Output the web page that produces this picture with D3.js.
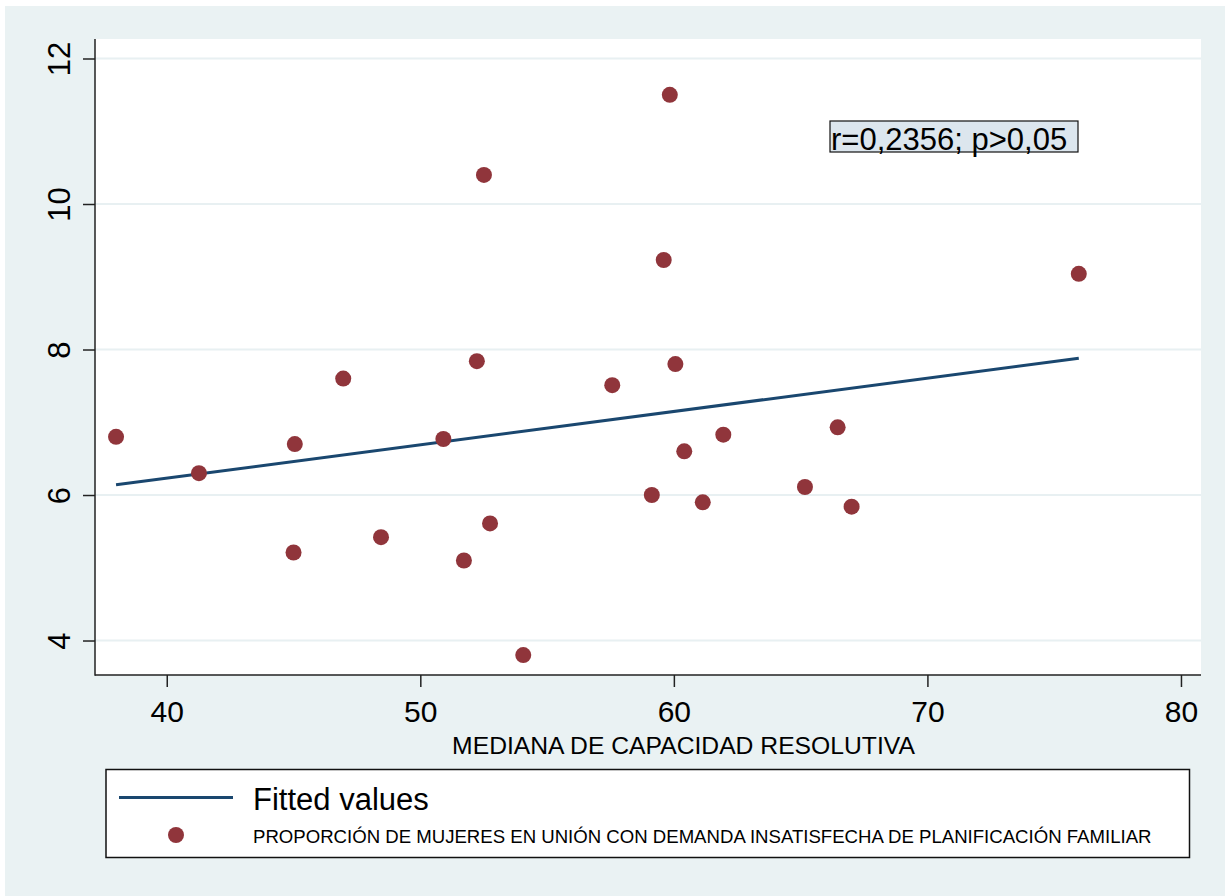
<!DOCTYPE html>
<html>
<head>
<meta charset="utf-8">
<script src="https://cdn.jsdelivr.net/npm/d3@7"></script>
<style>
  html, body { margin: 0; padding: 0; background: #ffffff; }
  svg { display: block; font-family: "Liberation Sans", Arial, sans-serif; }
</style>
</head>
<body>
<svg id="chart" width="1225" height="896"></svg>
<script>
// Median resolutive capacity (x) vs. unmet family-planning demand (y)
const capacidad = [38.0, 41.27, 45.0, 45.05, 46.96, 48.45, 50.91, 51.72, 52.23, 52.51, 52.75, 54.06,
                   57.57, 59.13, 59.60, 59.84, 60.06, 60.41, 61.14, 61.95, 65.17, 66.46, 67.01, 75.97];
const demanda   = [6.80, 6.30, 5.21, 6.70, 7.60, 5.42, 6.77, 5.10, 7.84, 10.40, 5.61, 3.80,
                   7.51, 6.00, 9.23, 11.50, 7.80, 6.60, 5.90, 6.83, 6.11, 6.93, 5.84, 9.04];

// Linear fit endpoints
const fitX = [38.0, 75.97];
const fitY = [6.14, 7.88];

const xTicks = [40, 50, 60, 70, 80];
const yTicks = [4, 6, 8, 10, 12];

const xTitle = "MEDIANA DE CAPACIDAD RESOLUTIVA";
const legendLabels = ["Fitted values",
  "PROPORCIÓN DE MUJERES EN UNIÓN CON DEMANDA INSATISFECHA DE PLANIFICACIÓN FAMILIAR"];
const note = "r=0,2356; p>0,05";

const LINE = "#1a476f", DOT = "#90353b", BG = "#eaf2f3", GRID = "#e8f0f2", AX = "#222";

const svg = d3.select("#chart");

// graph background
svg.append("rect").attr("x", 5).attr("y", 6).attr("width", 1220).attr("height", 890).attr("fill", BG);

const plot = { left: 95, right: 1201, top: 39, bottom: 675 };
const x = d3.scaleLinear().domain([37.17, 80.79]).range([plot.left, plot.right]);
const y = d3.scaleLinear().domain([3.526, 12.268]).range([plot.bottom, plot.top]);

// plot region
svg.append("rect").attr("x", plot.left).attr("y", plot.top)
  .attr("width", plot.right - plot.left).attr("height", plot.bottom - plot.top).attr("fill", "#fff");

// horizontal grid
svg.append("g").selectAll("line").data(yTicks).join("line")
  .attr("x1", plot.left).attr("x2", plot.right)
  .attr("y1", d => y(d)).attr("y2", d => y(d))
  .attr("stroke", GRID).attr("stroke-width", 2.2);

// y axis
const yAxis = svg.append("g").attr("transform", `translate(${plot.left},0)`)
  .call(d3.axisLeft(y).tickValues(yTicks).tickSize(12).tickFormat(d3.format("d")));
yAxis.select(".domain").remove();
yAxis.selectAll(".tick line").attr("stroke", AX).attr("stroke-width", 1.5);
yAxis.selectAll(".tick text")
  .attr("x", 0).attr("dy", 0)
  .attr("transform", "translate(-25,0) rotate(-90)")
  .attr("text-anchor", "middle")
  .attr("font-size", 31).attr("fill", "#000")
  .attr("font-family", "Liberation Sans, Arial, sans-serif");

// x axis
const xAxis = svg.append("g").attr("transform", `translate(0,${plot.bottom})`)
  .call(d3.axisBottom(x).tickValues(xTicks).tickSize(12).tickFormat(d3.format("d")));
xAxis.select(".domain").remove();
xAxis.selectAll(".tick line").attr("stroke", AX).attr("stroke-width", 1.5);
xAxis.selectAll(".tick text")
  .attr("y", 47).attr("dy", 0)
  .attr("font-size", 30).attr("fill", "#000")
  .attr("font-family", "Liberation Sans, Arial, sans-serif");

// axis lines
svg.append("line").attr("x1", plot.left).attr("x2", plot.left).attr("y1", plot.top).attr("y2", plot.bottom + 0.75)
  .attr("stroke", AX).attr("stroke-width", 1.5);
svg.append("line").attr("x1", plot.left).attr("x2", plot.right).attr("y1", plot.bottom).attr("y2", plot.bottom)
  .attr("stroke", AX).attr("stroke-width", 1.5);

// axis title
svg.append("text").attr("x", 683.5).attr("y", 754)
  .attr("text-anchor", "middle").attr("font-size", 24.7).attr("fill", "#000").text(xTitle);

// fitted line
svg.append("path")
  .datum(fitX.map((v, i) => [v, fitY[i]]))
  .attr("d", d3.line().x(d => x(d[0])).y(d => y(d[1])))
  .attr("stroke", LINE).attr("stroke-width", 3).attr("fill", "none");

// scatter points
svg.append("g").selectAll("circle").data(capacidad.map((v, i) => [v, demanda[i]])).join("circle")
  .attr("cx", d => x(d[0])).attr("cy", d => y(d[1])).attr("r", 8).attr("fill", DOT);

// correlation note
const noteG = svg.append("g");
noteG.append("rect").attr("x", 830).attr("y", 121).attr("width", 248).attr("height", 31)
  .attr("fill", "#dce6ee").attr("stroke", "#111").attr("stroke-width", 1.2);
noteG.append("text").attr("x", 831).attr("y", 150).attr("font-size", 31).attr("fill", "#000").text(note);

// legend
const lg = svg.append("g");
lg.append("rect").attr("x", 106).attr("y", 769.5).attr("width", 1083.5).attr("height", 88)
  .attr("fill", "#fff").attr("stroke", "#111").attr("stroke-width", 1.5);
lg.append("line").attr("x1", 119).attr("x2", 233).attr("y1", 797.5).attr("y2", 797.5)
  .attr("stroke", LINE).attr("stroke-width", 3);
lg.append("circle").attr("cx", 176).attr("cy", 835).attr("r", 8).attr("fill", DOT);
lg.append("text").attr("x", 253).attr("y", 810).attr("font-size", 31).attr("fill", "#000").text(legendLabels[0]);
lg.append("text").attr("x", 253).attr("y", 843).attr("font-size", 18.6).attr("fill", "#000").text(legendLabels[1]);
</script>
</body>
</html>
